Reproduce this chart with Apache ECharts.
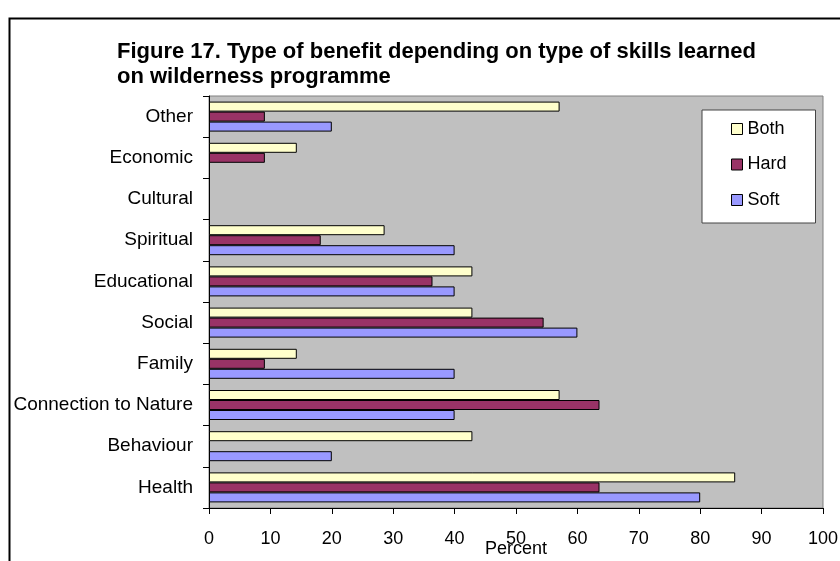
<!DOCTYPE html>
<html>
<head>
<meta charset="utf-8">
<script src="https://cdn.jsdelivr.net/npm/echarts@6/dist/echarts.min.js"></script>
<style>
html,body{margin:0;padding:0;background:#fff;}
#chart{width:840px;height:561px;}
</style>
</head>
<body>
<div id="chart"></div>
<script>
// Categories listed bottom to top (as on the category axis)
const categories = ['Health', 'Behaviour', 'Connection to Nature', 'Family', 'Social', 'Educational', 'Spiritual', 'Cultural', 'Economic', 'Other'];
const bothValues = [85.7, 42.9, 57.1, 14.3, 42.9, 42.9, 28.6, 0, 14.3, 57.1];
const hardValues = [63.6, 0, 63.6, 9.1, 54.5, 36.4, 18.2, 0, 9.1, 9.1];
const softValues = [80, 20, 40, 40, 60, 40, 40, 0, 0, 20];
const xTicks = [0, 10, 20, 30, 40, 50, 60, 70, 80, 90, 100];
const titleText = 'Figure 17. Type of benefit depending on type of skills learned\non wilderness programme';
const xAxisName = 'Percent';

const FONT = "'Liberation Sans', Arial, sans-serif";
const toData = arr => arr.map(v => (v === 0 ? null : v));
const barStyle = c => ({ color: c, borderColor: '#000', borderWidth: 1 });

const chart = echarts.init(document.getElementById('chart'), null, { renderer: 'canvas' });
chart.setOption({
  animation: false,
  backgroundColor: '#fff',
  graphic: [{
    type: 'rect', left: 7, top: 16, z: -1,
    shape: { width: 900, height: 700 },
    style: { fill: 'none', stroke: '#000', lineWidth: 2 }
  }],
  title: {
    text: titleText, left: 112, top: 34,
    textStyle: { fontFamily: FONT, fontSize: 22, fontWeight: 'bold', color: '#000', lineHeight: 25 }
  },
  legend: {
    data: ['Both', 'Hard', 'Soft'],
    orient: 'vertical', left: 702, top: 110,
    backgroundColor: '#fff', borderColor: '#444', borderWidth: 1,
    padding: [10, 29, 14, 29], itemGap: 17.5,
    itemWidth: 11, itemHeight: 11, icon: 'rect',
    itemStyle: { borderColor: '#000', borderWidth: 1 },
    textStyle: { fontFamily: FONT, fontSize: 18, color: '#000', lineHeight: 18 }
  },
  grid: {
    left: 209, right: 17, top: 96, bottom: 53,
    outerBoundsMode: 'none', containLabel: false,
    show: true, backgroundColor: '#C0C0C0', borderColor: '#808080', borderWidth: 1
  },
  xAxis: {
    type: 'value', min: xTicks[0], max: xTicks[xTicks.length - 1], interval: 10,
    name: xAxisName, nameLocation: 'middle', nameGap: 32, nameMoveOverlap: false,
    nameTextStyle: { fontFamily: FONT, fontSize: 18, color: '#000', lineHeight: 18 },
    axisLine: { show: true, lineStyle: { color: '#000', width: 1 } },
    axisTick: { show: true, length: 6, lineStyle: { color: '#000' } },
    axisLabel: { fontFamily: FONT, fontSize: 18, color: '#000', margin: 22, lineHeight: 18 },
    splitLine: { show: false }
  },
  yAxis: {
    type: 'category', data: categories,
    axisLine: { show: true, lineStyle: { color: '#000', width: 1 } },
    axisTick: { show: true, length: 6, lineStyle: { color: '#000' } },
    axisLabel: { fontFamily: FONT, fontSize: 19, color: '#000', margin: 16 },
    splitLine: { show: false }
  },
  series: [
    { name: 'Both', type: 'bar', data: toData(bothValues), barWidth: 10, barGap: '0%', itemStyle: barStyle('#FFFFCC') },
    { name: 'Hard', type: 'bar', data: toData(hardValues), barWidth: 10, barGap: '0%', itemStyle: barStyle('#993366') },
    { name: 'Soft', type: 'bar', data: toData(softValues), barWidth: 10, barGap: '0%', itemStyle: barStyle('#9999FF') }
  ]
});
</script>
</body>
</html>
